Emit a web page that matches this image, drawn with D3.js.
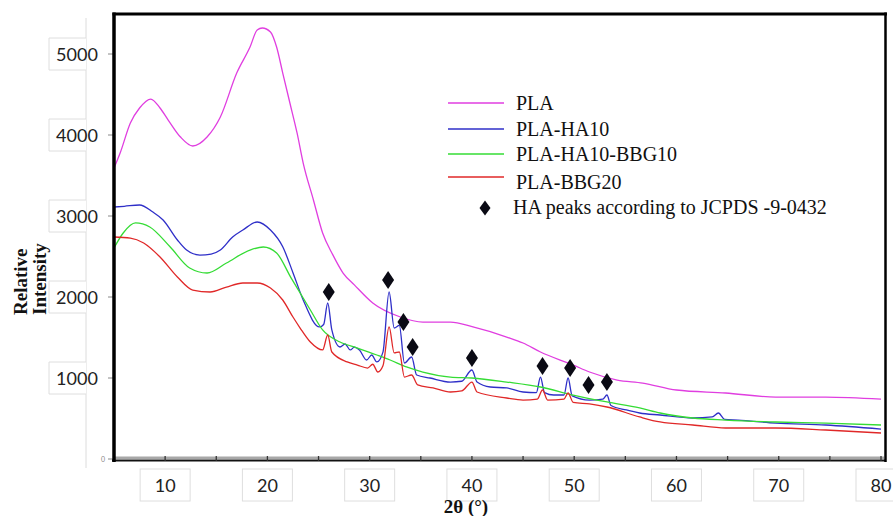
<!DOCTYPE html>
<html>
<head>
<meta charset="utf-8">
<script src="https://cdn.jsdelivr.net/npm/d3@7"></script>
<style>
  body { margin: 0; background: #fff; }
  svg { display: block; }
</style>
</head>
<body>
<svg width="893" height="516"></svg>
<script>
// [2theta, intensity]
const pla = [
  [5.0, 3593], [5.6, 3778], [6.6, 4148], [7.5, 4333], [8.6, 4444], [9.5, 4333],
  [10.3, 4185], [11.5, 3975], [12.7, 3864], [14.1, 3975], [15.4, 4222], [17.0, 4765],
  [18.3, 5086], [19.0, 5296], [19.5, 5321], [20.3, 5272], [20.9, 5086], [21.5, 4765],
  [22.2, 4395], [22.9, 4025], [23.5, 3654], [24.5, 3198], [25.4, 2790], [26.4, 2520],
  [27.4, 2296], [28.5, 2150], [30.3, 1926], [33.0, 1753], [35.2, 1691], [37.9, 1691],
  [40.1, 1630], [43.4, 1506], [45.0, 1432], [46.7, 1321], [49.9, 1160], [51.5, 1074],
  [54.2, 975], [56.7, 938], [60.0, 852], [64.8, 815], [69.7, 765], [74.6, 765], [80.0, 740]
]
const plaHa10 = [
  [5.0, 3111], [6.0, 3120], [7.5, 3136], [8.8, 3049], [9.8, 2951], [11.2, 2704],
  [12.1, 2580], [13.4, 2518], [14.5, 2530], [15.4, 2580], [16.6, 2741], [17.6, 2827],
  [19.0, 2926], [20.3, 2827], [21.5, 2620], [22.5, 2300], [23.5, 1963], [25.1, 1630],
  [25.5, 1660], [25.9, 1926], [26.3, 1593], [27.1, 1383], [27.6, 1420], [28.1, 1346],
  [28.5, 1380], [29.0, 1346], [29.7, 1222], [30.2, 1284], [30.7, 1198], [31.3, 1320],
  [31.9, 2062], [32.4, 1617], [32.9, 1650], [33.4, 1185], [34.1, 1259], [34.6, 1037],
  [35.9, 1000], [37.9, 950], [39.0, 960], [40.0, 1099], [40.5, 950], [41.8, 889],
  [43.4, 877], [45.0, 827], [46.3, 820], [46.7, 1012], [47.1, 820], [48.0, 790],
  [49.0, 790], [49.4, 1000], [49.8, 780], [51.5, 728], [52.8, 740], [53.2, 790],
  [53.6, 660], [55.1, 605], [56.4, 568], [58.4, 543], [61.6, 506], [63.5, 520],
  [64.1, 568], [64.7, 490], [66.0, 481], [69.7, 444], [74.6, 420], [80.0, 370]
]
const plaHa10Bbg10 = [
  [5.0, 2605], [5.9, 2790], [7.1, 2914], [8.5, 2864], [10.5, 2617], [12.4, 2358],
  [14.1, 2296], [16.0, 2420], [18.3, 2580], [19.6, 2617], [20.9, 2543], [22.3, 2240],
  [24.2, 1840], [25.4, 1593], [27.1, 1444], [28.8, 1370], [30.7, 1284], [32.0, 1222],
  [33.6, 1136], [35.2, 1074], [37.9, 1012], [40.0, 1000], [43.4, 950], [46.7, 889],
  [49.9, 790], [53.2, 704], [56.4, 630], [58.4, 568], [61.6, 506], [64.8, 481],
  [69.7, 457], [74.6, 444], [80.0, 420]
]
const plaBbg20 = [
  [5.0, 2741], [6.6, 2728], [7.9, 2667], [9.5, 2494], [11.2, 2247], [12.7, 2086],
  [14.4, 2062], [16.0, 2123], [17.6, 2173], [19.0, 2173], [20.3, 2111], [21.5, 1963],
  [22.5, 1753], [23.2, 1617], [24.2, 1444], [25.4, 1346], [25.9, 1531], [26.3, 1321],
  [27.8, 1198], [28.8, 1160], [29.8, 1123], [30.3, 1170], [30.8, 1074], [31.3, 1150],
  [31.9, 1630], [32.4, 1309], [32.9, 1321], [33.4, 1012], [34.1, 1037], [34.7, 914],
  [36.2, 877], [37.9, 827], [39.0, 840], [40.0, 950], [40.5, 827], [43.4, 753],
  [45.0, 728], [46.4, 740], [46.9, 852], [47.4, 728], [49.0, 740], [49.4, 815],
  [49.9, 700], [51.5, 680], [53.2, 642], [56.4, 519], [58.4, 457], [61.6, 420],
  [64.8, 383], [69.7, 383], [74.6, 358], [80.0, 321]
]
// HA peak markers (JCPDS 9-0432)
const haPeaks = [
  [26.0, 2062], [31.8, 2210], [33.3, 1691], [34.2, 1383], [40.0, 1247],
  [46.9, 1148], [49.6, 1123], [51.4, 914], [53.2, 950]
]
const seriesNames = ["PLA", "PLA-HA10", "PLA-HA10-BBG10", "PLA-BBG20"]
const seriesColors = ["#e03ee0", "#2f2fc8", "#35dc35", "#e02828"]
const xTicks = [10, 20, 30, 40, 50, 60, 70, 80]
const yTicks = [1000, 2000, 3000, 4000, 5000]

const svg = d3.select("svg")
const x = d3.scaleLinear().domain([5, 80]).range([114, 881])
const y = d3.scaleLinear().domain([0, 5000]).range([459, 54])

// y label boxes
svg.append("line")
  .attr("x1", 86).attr("x2", 86).attr("y1", 18).attr("y2", 468)
  .attr("stroke", "#dcdcdc")
svg.selectAll(".ybox")
  .data(yTicks)
  .enter()
  .append("path")
  .attr("d", d => `M86,${y(d) - 16}H49V${y(d) + 16}H86`)
  .attr("fill", "#fff")
  .attr("stroke", "#dedede")
svg.selectAll(".ylab")
  .data(yTicks)
  .enter()
  .append("text")
  .attr("x", 77).attr("y", d => y(d) + 6.5)
  .attr("text-anchor", "middle")
  .style("font", "18px Lato")
  .attr("fill", "#222")
  .text(d => d)
svg.selectAll(".ytick")
  .data([0].concat(yTicks))
  .enter()
  .append("line")
  .attr("x1", 108).attr("x2", 113)
  .attr("y1", d => y(d)).attr("y2", d => y(d))
  .attr("stroke", "#888")
svg.append("text")
  .attr("x", 103).attr("y", y(0) + 2.5)
  .attr("text-anchor", "middle")
  .style("font", "7px Lato")
  .attr("fill", "#888")
  .text("0")

// x label boxes
svg.selectAll(".xbox")
  .data(xTicks)
  .enter()
  .append("rect")
  .attr("x", d => x(d) - 25).attr("y", 469)
  .attr("width", 50).attr("height", 32)
  .attr("fill", "#fff")
  .attr("stroke", "#dedede")
svg.selectAll(".xlab")
  .data(xTicks)
  .enter()
  .append("text")
  .attr("x", d => x(d)).attr("y", 492)
  .attr("text-anchor", "middle")
  .style("font", "18px Lato")
  .attr("fill", "#222")
  .text(d => d)

// series
svg.append("clipPath").attr("id", "plot")
  .append("rect").attr("x", 114).attr("y", 14).attr("width", 770).attr("height", 446)

const line = d3.line()
  .x(d => x(d[0]))
  .y(d => y(d[1]))
  .curve(d3.curveMonotoneX)

const allSeries = [pla, plaHa10, plaHa10Bbg10, plaBbg20]
svg.append("g").attr("clip-path", "url(#plot)")
  .selectAll("path")
  .data(allSeries)
  .enter()
  .append("path")
  .attr("d", line)
  .attr("fill", "none")
  .attr("stroke", (d, i) => seriesColors[i])
  .attr("stroke-width", 1.3)

const diamond = (cx, cy, w, h) =>
  `M${cx},${cy - h / 2}L${cx + w / 2},${cy}L${cx},${cy + h / 2}L${cx - w / 2},${cy}Z`

svg.selectAll(".peak")
  .data(haPeaks)
  .enter()
  .append("path")
  .attr("d", d => diamond(x(d[0]), y(d[1]), 12, 18))
  .attr("fill", "#0a0a14")

// frame and x axis
svg.append("rect")
  .attr("x", 114).attr("y", 456.5).attr("width", 770).attr("height", 2.5)
  .attr("fill", "#a8a8a8")
svg.append("line")
  .attr("x1", 112).attr("x2", 886).attr("y1", 460.5).attr("y2", 460.5)
  .attr("stroke", "#111").attr("stroke-width", 2)
svg.selectAll(".xtick")
  .data(d3.range(5, 81, 5))
  .enter()
  .append("line")
  .attr("x1", d => x(d)).attr("x2", d => x(d))
  .attr("y1", 456).attr("y2", 461)
  .attr("stroke", "#333").attr("stroke-width", 1.3)
svg.append("line")
  .attr("x1", 114).attr("x2", 114).attr("y1", 12.5).attr("y2", 462)
  .attr("stroke", "#000").attr("stroke-width", 3.5)
svg.append("line")
  .attr("x1", 112.5).attr("x2", 887).attr("y1", 14).attr("y2", 14)
  .attr("stroke", "#000").attr("stroke-width", 3)
svg.append("line")
  .attr("x1", 885.5).attr("x2", 885.5).attr("y1", 12.5).attr("y2", 462)
  .attr("stroke", "#000").attr("stroke-width", 2.5)

// legend
const legend = svg.append("g")
const legendY = [103, 129, 154, 177]
seriesNames.forEach((name, i) => {
  legend.append("line")
    .attr("x1", 448).attr("x2", 504)
    .attr("y1", legendY[i]).attr("y2", legendY[i])
    .attr("stroke", seriesColors[i]).attr("stroke-width", 1.5)
  legend.append("text")
    .attr("x", 516).attr("y", legendY[i] + 6.5 + (i == 3 ? 5 : 0))
    .style("font", "20px 'Liberation Serif'")
    .attr("fill", "#111")
    .text(name)
})
legend.append("path")
  .attr("d", diamond(485, 208, 11, 15))
  .attr("fill", "#0a0a14")
legend.append("text")
  .attr("x", 513).attr("y", 214)
  .style("font", "20px 'Liberation Serif'")
  .attr("fill", "#111")
  .text("HA peaks according to JCPDS -9-0432")

// axis titles
svg.append("text")
  .attr("transform", "translate(27,315) rotate(-90)")
  .style("font", "bold 19px 'Liberation Serif'")
  .attr("fill", "#111")
  .text("Relative")
svg.append("text")
  .attr("transform", "translate(46,315) rotate(-90)")
  .style("font", "bold 19px 'Liberation Serif'")
  .attr("fill", "#111")
  .text("Intensity")
svg.append("text")
  .attr("x", 466).attr("y", 513)
  .attr("text-anchor", "middle")
  .style("font", "bold 19px 'Liberation Serif'")
  .attr("fill", "#111")
  .text("2θ (°)")
</script>
</body>
</html>
